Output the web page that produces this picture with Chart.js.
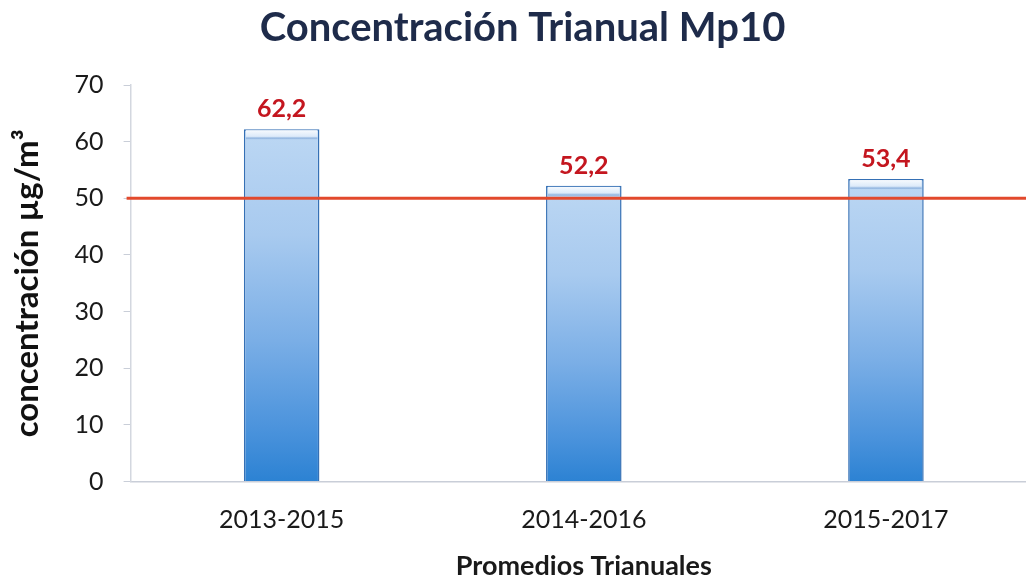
<!DOCTYPE html>
<html>
<head>
<meta charset="utf-8">
<script src="https://cdn.jsdelivr.net/npm/chart.js@4/dist/chart.umd.min.js"></script>
<style>
  html, body { margin: 0; padding: 0; background: #fff; overflow: hidden; }
  #wrap { width: 1040px; height: 582px; }
</style>
</head>
<body>
<div id="wrap"><canvas id="mp10Chart"></canvas></div>
<script>
const periods = ['2013-2015', '2014-2016', '2015-2017'];
const concentrations = [62.2, 52.2, 53.4];
const normLimit = [50];
const yTicks = [0, 10, 20, 30, 40, 50, 60, 70];

const FONT = 'Lato, "Open Sans", sans-serif';

function fmt(v) {
    return v.toFixed(1).replace('.', ',');
}

// gradient per bar: light on top, deeper blue at the base
function barFill(context) {
    const chart = context.chart;
    if (!chart.chartArea || !chart.scales.y) return '#7fb2e6';
    const y = chart.scales.y;
    const top = y.getPixelForValue(context.raw);
    const bottom = y.getPixelForValue(0);
    const g = chart.ctx.createLinearGradient(0, top, 0, bottom);
    g.addColorStop(0, '#bcd7f3');
    g.addColorStop(0.3, '#a8caef');
    g.addColorStop(0.6, '#7aaee6');
    g.addColorStop(0.85, '#4b93dc');
    g.addColorStop(1, '#2c82d3');
    return g;
}

const extras = {
    id: 'extras',
    afterDatasetsDraw(chart) {
        const ctx = chart.ctx;
        const area = chart.chartArea;
        const meta = chart.getDatasetMeta(0);
        ctx.save();
        // bevel on the bar tops
        meta.data.forEach(function(bar) {
            const w = bar.width;
            const g = ctx.createLinearGradient(0, bar.y, 0, bar.y + 9);
            g.addColorStop(0, 'rgba(255,255,255,0.95)');
            g.addColorStop(0.8, 'rgba(235,243,252,0.7)');
            g.addColorStop(1, 'rgba(120,160,210,0.5)');
            ctx.fillStyle = g;
            ctx.fillRect(bar.x - w / 2 + 2, bar.y + 1, w - 4, 9);
        });
        // norm line
        const ly = chart.scales.y.getPixelForValue(normLimit[0]);
        ctx.strokeStyle = '#e2492c';
        ctx.lineWidth = 3;
        ctx.beginPath();
        ctx.moveTo(area.left - 4, ly);
        ctx.lineTo(area.right, ly);
        ctx.stroke();
        // value labels
        ctx.fillStyle = '#c4161f';
        ctx.font = 'bold 25px ' + FONT;
        ctx.textAlign = 'center';
        ctx.textBaseline = 'alphabetic';
        meta.data.forEach(function(bar, i) {
            ctx.fillText(fmt(concentrations[i]), bar.x, bar.y - 12);
        });
        ctx.restore();
    }
};

new Chart(document.getElementById('mp10Chart'), {
    type: 'bar',
    data: {
        labels: periods,
        datasets: [{
            data: concentrations,
            backgroundColor: barFill,
            borderColor: '#3570b5',
            borderWidth: 1.5,
            barPercentage: 0.25,
            categoryPercentage: 1
        }]
    },
    options: {
        responsive: true,
        maintainAspectRatio: false,
        animation: false,
        layout: { padding: { top: 0, right: 3, bottom: 0, left: 8 } },
        plugins: {
            legend: { display: false },
            tooltip: { enabled: false },
            title: {
                display: true,
                text: 'Concentración Trianual Mp10',
                color: '#1e2b4a',
                font: { family: FONT, size: 40, weight: 'bold' },
                padding: { top: 4, bottom: 33 }
            }
        },
        scales: {
            x: {
                grid: { display: false },
                border: { display: true, color: '#c9ced8', width: 1.5 },
                ticks: { color: '#1a1a1a', font: { family: FONT, size: 25 }, padding: 15 },
                title: {
                    display: true,
                    text: 'Promedios Trianuales',
                    color: '#1a1a1a',
                    font: { family: FONT, size: 27, weight: 'bold' },
                    padding: { top: 0, bottom: 0 }
                }
            },
            y: {
                min: 0,
                max: 70,
                afterBuildTicks(scale) {
                    scale.ticks = yTicks.map(function(v) { return { value: v }; });
                },
                grid: { drawOnChartArea: false, drawTicks: true, tickLength: 7, color: '#c9ced8' },
                border: { display: true, color: '#d3d7df', width: 1.5 },
                ticks: { color: '#1a1a1a', font: { family: FONT, size: 25 }, padding: 20 },
                title: {
                    display: true,
                    text: 'concentración µg/m³',
                    color: '#111',
                    font: { family: FONT, size: 33, weight: 'bold' },
                    padding: { top: 0, bottom: 7 }
                }
            }
        }
    },
    plugins: [extras]
});
</script>
</body>
</html>
